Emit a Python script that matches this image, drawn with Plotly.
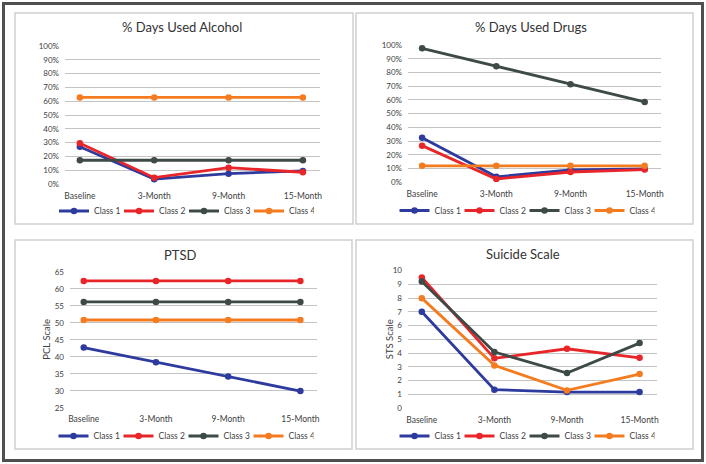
import plotly.graph_objects as go

W, H = 706, 464

timepoints = ["Baseline", "3-Month", "9-Month", "15-Month"]
class_names = ["Class 1", "Class 2", "Class 3", "Class 4"]
class_colors = ["#2d3a9e", "#e8262a", "#3e4a47", "#f47c20"]

# % Days Used Alcohol (fractions)
alcohol_c1 = [0.27, 0.035, 0.075, 0.095]
alcohol_c2 = [0.295, 0.046, 0.118, 0.085]
alcohol_c3 = [0.172, 0.172, 0.172, 0.172]
alcohol_c4 = [0.627, 0.627, 0.627, 0.627]

# % Days Used Drugs (fractions)
drugs_c1 = [0.325, 0.04, 0.09, 0.097]
drugs_c2 = [0.267, 0.024, 0.075, 0.093]
drugs_c3 = [0.976, 0.845, 0.714, 0.585]
drugs_c4 = [0.12, 0.12, 0.12, 0.12]

# PTSD (PCL scale)
ptsd_c1 = [42.7, 38.4, 34.2, 29.9]
ptsd_c2 = [62.3, 62.3, 62.3, 62.3]
ptsd_c3 = [56.1, 56.1, 56.1, 56.1]
ptsd_c4 = [50.8, 50.8, 50.8, 50.8]

# Suicide scale (STS)
sts_c1 = [7.0, 1.33, 1.16, 1.16]
sts_c2 = [9.49, 3.61, 4.31, 3.65]
sts_c3 = [9.2, 4.07, 2.54, 4.72]
sts_c4 = [7.99, 3.1, 1.28, 2.47]

panel_titles = ["% Days Used Alcohol", "% Days Used Drugs", "PTSD", "Suicide Scale"]
panel_data = [
    [alcohol_c1, alcohol_c2, alcohol_c3, alcohol_c4],
    [drugs_c1, drugs_c2, drugs_c3, drugs_c4],
    [ptsd_c1, ptsd_c2, ptsd_c3, ptsd_c4],
    [sts_c1, sts_c2, sts_c3, sts_c4],
]
y_titles = [None, None, "PCL Scale", "STS Scale"]

FONT = "Lato, 'Open Sans', sans-serif"
TICK_COLOR = "#404040"
GRID = "#c4c4c4"

def px(x):
    return x / W

def py(y):
    return 1 - y / H

# pixel geometry (plot areas)
plot_px = [
    (65, 320, 46, 184),
    (408, 661, 45, 182.3),
    (70, 317, 271.7, 407.7),
    (408, 657, 270.5, 408),
]
x_ranges = [[-0.2, 3.23], [-0.19, 3.22], [-0.19, 3.23], [-0.19, 3.24]]
y_ranges = [[0, 1], [0, 1], [25, 65], [0, 10]]
y_dticks = [0.1, 0.1, 5, 1]
y_formats = [".0%", ".0%", "", ""]
title_pos = [(182, 27), (531, 27), (180, 255), (523, 254)]
legend_pos = [(184, 211), (524.5, 210.5), (183.5, 436), (524.5, 436)]
ytitle_x = [None, None, 47, 389]
panels_px = [(15, 353, 13, 224), (356, 693, 13, 224), (15, 352, 240, 449), (356, 693, 240, 449)]

fig = go.Figure()
layout = dict(
    width=W, height=H,
    margin=dict(l=0, r=0, t=0, b=0, autoexpand=False),
    paper_bgcolor="white", plot_bgcolor="white",
    font=dict(family=FONT, size=8, color=TICK_COLOR),
    showlegend=True,
)
annotations = []
shapes = []

# outer frame and panel frames
shapes.append(dict(type="rect", xref="paper", yref="paper",
                   x0=px(3.5), x1=px(702.5), y0=py(3.5), y1=py(460.5),
                   line=dict(color="#505050", width=3), layer="below"))
for (x0, x1, y0, y1) in panels_px:
    shapes.append(dict(type="rect", xref="paper", yref="paper",
                       x0=px(x0), x1=px(x1), y0=py(y0), y1=py(y1),
                       line=dict(color="#cfcfcf", width=1.5), layer="below"))

for i in range(4):
    n = "" if i == 0 else str(i + 1)
    xa, ya = "x" + n, "y" + n
    lg = "legend" if i == 0 else "legend" + str(i + 1)
    for c in range(4):
        fig.add_trace(go.Scatter(
            x=timepoints, y=panel_data[i][c], name=class_names[c],
            mode="lines+markers", xaxis=xa, yaxis=ya, legend=lg,
            line=dict(color=class_colors[c], width=2.8),
            marker=dict(color=class_colors[c], size=6.5, symbol="circle"),
            hoverinfo="skip",
        ))
    x0, x1, y0, y1 = plot_px[i]
    layout["xaxis" + n] = dict(
        domain=[px(x0), px(x1)], range=x_ranges[i], type="category",
        anchor=ya, showgrid=False, zeroline=False, showline=False,
        ticks="", ticklabelstandoff=5,
        tickfont=dict(family=FONT, size=8.5, color=TICK_COLOR),
        fixedrange=True,
    )
    layout["yaxis" + n] = dict(
        domain=[py(y1), py(y0)], range=y_ranges[i], anchor=xa,
        dtick=y_dticks[i], tick0=y_ranges[i][0], tickformat=y_formats[i],
        showgrid=True, gridcolor=GRID, gridwidth=1, zeroline=False,
        showline=False, ticks="", ticklabelstandoff=5,
        tickfont=dict(family=FONT, size=8, color=TICK_COLOR),
        fixedrange=True,
    )
    lx, ly = legend_pos[i]
    layout[lg] = dict(
        orientation="h", x=px(lx), y=py(ly), xanchor="center", yanchor="middle",
        font=dict(family=FONT, size=8.5, color=TICK_COLOR),
        bgcolor="rgba(0,0,0,0)", entrywidth=20, itemwidth=30,
        tracegroupgap=0,
    )
    tx, ty = title_pos[i]
    annotations.append(dict(
        text=panel_titles[i], x=px(tx), y=py(ty), xref="paper", yref="paper",
        showarrow=False, xanchor="center", yanchor="middle",
        font=dict(family=FONT, size=13, color="#333333"),
    ))
    if y_titles[i]:
        annotations.append(dict(
            text=y_titles[i], x=px(ytitle_x[i]), y=py((y0 + y1) / 2),
            xref="paper", yref="paper", showarrow=False, textangle=-90,
            xanchor="center", yanchor="middle",
            font=dict(family=FONT, size=9.5, color=TICK_COLOR),
        ))

layout["annotations"] = annotations
layout["shapes"] = shapes
fig.update_layout(**layout)
fig.write_html(
    "out.html",
    config={"displayModeBar": False},
    post_script="document.body.style.margin='0';document.body.style.overflow='hidden';",
)
